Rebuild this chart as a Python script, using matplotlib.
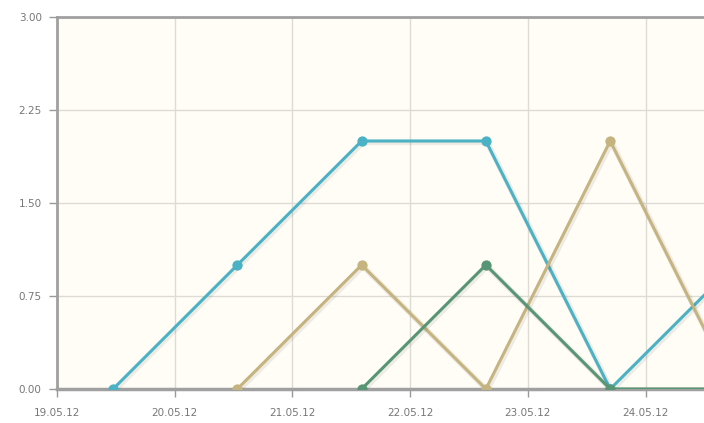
import matplotlib
matplotlib.use("Agg")
import matplotlib.pyplot as plt
import matplotlib.patheffects as pe
import numpy as np
from datetime import datetime, timedelta

# Data
point_times = ["2012-05-19 11:26", "2012-05-20 12:46", "2012-05-21 14:07",
               "2012-05-22 15:27", "2012-05-23 16:48", "2012-05-24 18:08"]
series_a = [0, 1, 2, 2, 0, 1]
series_b = [np.nan, 0, 1, 0, 2, 0]
series_c = [np.nan, np.nan, 0, 1, 0, 0]
x_tick_labels = ["19.05.12", "20.05.12", "21.05.12", "22.05.12", "23.05.12", "24.05.12"]
y_ticks = [0.0, 0.75, 1.5, 2.25, 3.0]

colors = ["#4bb2c5", "#c5b47f", "#579575"]

times = [datetime.strptime(t, "%Y-%m-%d %H:%M") for t in point_times]
tick_dates = [datetime.strptime(l, "%d.%m.%y") for l in x_tick_labels]

fig = plt.figure(figsize=(7.04, 4.23), dpi=100)
fig.patch.set_facecolor("white")
ax = fig.add_axes([57/704, 1-389/423, 1-57/704 + 0.05, (389-17)/423])
ax.set_facecolor("#fffdf6")

line_shadow = [pe.SimpleLineShadow(offset=(1.0, -1.0), shadow_color="black", alpha=0.07, linewidth=4.0),
               pe.Normal()]
for vals, c in zip([series_a, series_b, series_c], colors):
    ax.plot(times, vals, color=c, lw=2.2, zorder=3, path_effects=line_shadow)
    ax.plot(times, vals, color=c, lw=0, marker="o", markersize=7.4,
            markeredgewidth=0, zorder=3)

xmin = datetime(2012, 5, 19)
xmax = xmin + timedelta(days=(704-57)/117.7 + 0.05*704/117.7)
ax.set_xlim(xmin, xmax)
ax.set_ylim(0, 3)

ax.set_xticks(tick_dates)
ax.set_xticklabels(x_tick_labels)
ax.set_yticks(y_ticks)
ax.set_yticklabels([f"{v:.2f}" for v in y_ticks])

ax.grid(True, color="#dcdcd4", lw=1.0, zorder=0)
ax.set_axisbelow(True)
ax.tick_params(axis="both", colors="#999999", labelcolor="#777777", labelsize=7.5,
               length=6, width=1)
ax.tick_params(axis="x", pad=8)
ax.tick_params(axis="y", pad=5)

for side in ["left", "top", "bottom"]:
    ax.spines[side].set_color("#a0a0a0")
ax.spines["left"].set_linewidth(2)
ax.spines["top"].set_linewidth(2)
ax.spines["bottom"].set_linewidth(2.5)
ax.spines["right"].set_visible(False)

fig.savefig("out.png", dpi=100)
